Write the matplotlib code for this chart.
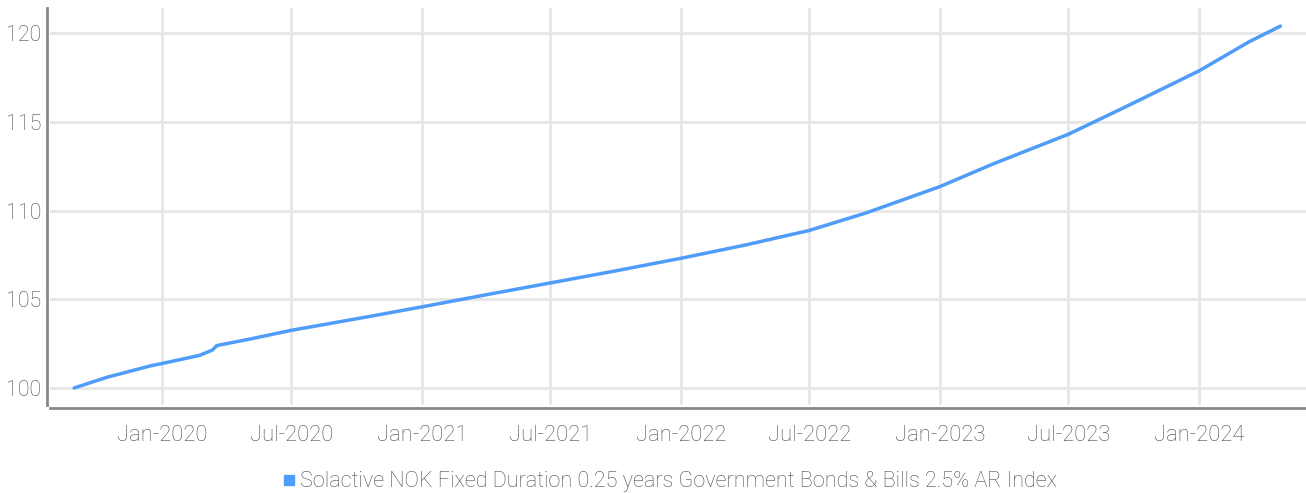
import numpy as np
import pandas as pd
import matplotlib
matplotlib.use("Agg")
import matplotlib.pyplot as plt
import matplotlib.dates as mdates
from matplotlib.lines import Line2D

plt.rcParams['font.family'] = ['Roboto', 'DejaVu Sans']
plt.rcParams['font.weight'] = 'light'

# values
dates = ["2019-08-30", "2019-10-15", "2019-12-17", "2020-01-01", "2020-02-23",
         "2020-03-12", "2020-03-18", "2020-05-04", "2020-07-01", "2020-10-01",
         "2021-01-01", "2021-04-01", "2021-07-01", "2021-10-01", "2022-01-01",
         "2022-04-01", "2022-07-01", "2022-09-20", "2023-01-01", "2023-03-17",
         "2023-07-01", "2023-09-25", "2024-01-01", "2024-03-12", "2024-04-25"]
values = [100.0, 100.6, 101.26, 101.38, 101.84,
          102.14, 102.39, 102.76, 103.25, 103.9,
          104.57, 105.25, 105.92, 106.6, 107.31,
          108.05, 108.88, 109.88, 111.35, 112.63,
          114.3, 115.95, 117.87, 119.52, 120.4]
series_name = "Solactive NOK Fixed Duration 0.25 years Government Bonds & Bills 2.5% AR Index"

df = pd.DataFrame({"date": pd.to_datetime(dates), "value": values})

blue = "#4f9cf9"
txt = "#4d4d4d"

fig = plt.figure(figsize=(13.06, 4.93), dpi=100)
ax = fig.add_axes([50/1306, 1-405/493, 1256/1306, 397/493])

ax.plot(df["date"], df["value"], color=blue, lw=2.5, solid_capstyle="round")

ax.set_xlim(pd.Timestamp("2019-07-27"), pd.Timestamp("2024-05-31"))
ax.set_ylim(99.04, 121.42)
ax.set_yticks([100, 105, 110, 115, 120])
ax.xaxis.set_major_locator(mdates.MonthLocator(bymonth=[1, 7]))
ax.xaxis.set_major_formatter(mdates.DateFormatter("%b-%Y"))

ax.grid(True, color="#e6e6e6", lw=2)
ax.set_axisbelow(True)
for s in ["top", "right"]:
    ax.spines[s].set_visible(False)
for s in ["left", "bottom"]:
    ax.spines[s].set_color("#888888")
    ax.spines[s].set_linewidth(2)
    ax.spines[s].set_position(("outward", 2.2))

ax.tick_params(axis="x", length=0, labelsize=15.8, labelcolor=txt, pad=12)
ax.tick_params(axis="y", length=0, labelsize=15.5, labelcolor=txt, pad=4)

handle = Line2D([], [], marker="s", color="none", markerfacecolor=blue,
                markeredgecolor=blue, markersize=7)
fig.legend([handle], [series_name], loc="center", bbox_to_anchor=(0.512, 0.023),
           frameon=False, fontsize=15.6, labelcolor=txt, handletextpad=0.1,
           handlelength=0.8)

fig.savefig("out.png", dpi=100)
